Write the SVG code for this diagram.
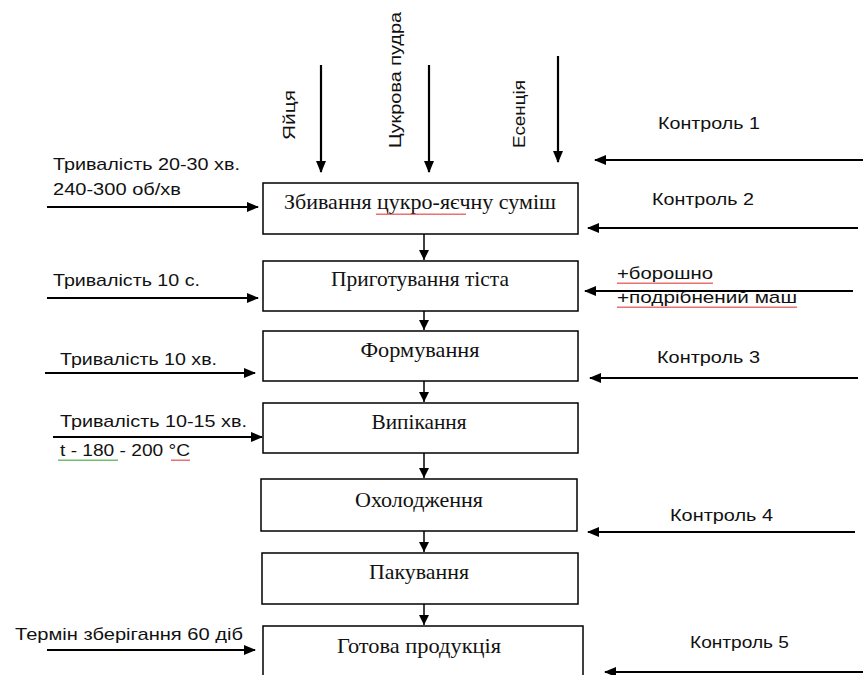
<svg xmlns="http://www.w3.org/2000/svg" width="863" height="675" viewBox="0 0 863 675">
<style>
.box{fill:#fff;stroke:#000;stroke-width:1.5}
.bt{font-family:"Liberation Serif",serif;font-size:21px;fill:#111;text-anchor:middle}
.lb{font-family:"Liberation Sans",Arial,sans-serif;font-size:17px;fill:#111}
.ar{stroke:#000;stroke-width:2.2;fill:none;marker-end:url(#ah)}
.sa{stroke:#000;stroke-width:1.5;fill:none;marker-end:url(#sh)}
</style>
<defs>
<marker id="ah" markerWidth="12" markerHeight="10" refX="11" refY="5" orient="auto" markerUnits="userSpaceOnUse"><path d="M0,0 L12,5 L0,10 z" fill="#000"/></marker>
<marker id="sh" markerWidth="10" markerHeight="10" refX="10" refY="5" orient="auto" markerUnits="userSpaceOnUse"><path d="M0,0 L10,5 L0,10 z" fill="#000"/></marker>
<pattern id="wave" width="4" height="3" patternUnits="userSpaceOnUse"><path d="M0,2 L1,0.5 L2,2 L3,0.5 L4,2" stroke="#e03030" stroke-width="0.8" fill="none"/></pattern>
<pattern id="waveg" width="4" height="3" patternUnits="userSpaceOnUse"><path d="M0,2 L1,0.5 L2,2 L3,0.5 L4,2" stroke="#30a030" stroke-width="0.8" fill="none"/></pattern>
</defs>
<rect width="863" height="675" fill="#fff"/>
<g id="connectors">
<line class="ar" x1="321" y1="65" x2="321" y2="172"/>
<line class="ar" x1="429" y1="65" x2="429" y2="172"/>
<line class="ar" x1="558" y1="56" x2="558" y2="162"/>
<line class="ar" x1="47" y1="207" x2="258" y2="207"/>
<line class="ar" x1="47" y1="298" x2="258" y2="298"/>
<line class="ar" x1="45" y1="373" x2="255" y2="373"/>
<line class="ar" x1="53" y1="437" x2="262" y2="437"/>
<line class="ar" x1="47" y1="650" x2="255" y2="650"/>
<line class="ar" x1="863" y1="160" x2="595" y2="160"/>
<line class="ar" x1="858" y1="228" x2="588" y2="228"/>
<line class="ar" x1="853" y1="291" x2="585" y2="291"/>
<line class="ar" x1="858" y1="378" x2="590" y2="378"/>
<line class="ar" x1="855" y1="532" x2="588" y2="532"/>
<line class="ar" x1="863" y1="672" x2="605" y2="672"/>
<line class="sa" x1="424" y1="234" x2="424" y2="260"/>
<line class="sa" x1="424" y1="311" x2="424" y2="330"/>
<line class="sa" x1="424" y1="381" x2="424" y2="402"/>
<line class="sa" x1="424" y1="453" x2="424" y2="478"/>
<line class="sa" x1="424" y1="531" x2="424" y2="552"/>
<line class="sa" x1="424" y1="604" x2="424" y2="625"/>
</g>
<g id="n1"><rect class="box" x="263" y="183" width="315" height="51"/><text class="bt" x="420" y="209" textLength="272" lengthAdjust="spacingAndGlyphs">Збивання цукро-яєчну суміш</text><rect x="376" y="213" width="90" height="3" fill="url(#wave)"/></g>
<g id="n2"><rect class="box" x="263" y="261" width="315" height="50"/><text class="bt" x="420" y="286" textLength="178" lengthAdjust="spacingAndGlyphs">Приготування тіста</text></g>
<g id="n3"><rect class="box" x="263" y="331" width="315" height="50"/><text class="bt" x="420" y="357" textLength="119" lengthAdjust="spacingAndGlyphs">Формування</text></g>
<g id="n4"><rect class="box" x="263" y="403" width="315" height="50"/><text class="bt" x="419" y="429" textLength="95" lengthAdjust="spacingAndGlyphs">Випікання</text></g>
<g id="n5"><rect class="box" x="261" y="479" width="316" height="52"/><text class="bt" x="419" y="507" textLength="128" lengthAdjust="spacingAndGlyphs">Охолодження</text></g>
<g id="n6"><rect class="box" x="262" y="553" width="316" height="51"/><text class="bt" x="419" y="579" textLength="100" lengthAdjust="spacingAndGlyphs">Пакування</text></g>
<g id="n7"><rect class="box" x="263" y="626" width="320" height="60"/><text class="bt" x="419" y="653" textLength="164" lengthAdjust="spacingAndGlyphs">Готова продукція</text></g>
<g id="inputs">
<text class="lb" transform="translate(295,140) rotate(-90)" textLength="50" lengthAdjust="spacingAndGlyphs">Яйця</text>
<text class="lb" transform="translate(401,148) rotate(-90)" textLength="136" lengthAdjust="spacingAndGlyphs">Цукрова пудра</text>
<text class="lb" transform="translate(525,148) rotate(-90)" textLength="68" lengthAdjust="spacingAndGlyphs">Есенція</text>
</g>
<g id="params">
<text class="lb" x="53" y="170" textLength="187" lengthAdjust="spacingAndGlyphs">Тривалість 20-30 хв.</text>
<text class="lb" x="53" y="195" textLength="128" lengthAdjust="spacingAndGlyphs">240-300 об/хв</text>
<text class="lb" x="53" y="286" textLength="147" lengthAdjust="spacingAndGlyphs">Тривалість 10 с.</text>
<text class="lb" x="60" y="365" textLength="157" lengthAdjust="spacingAndGlyphs">Тривалість 10 хв.</text>
<text class="lb" x="60" y="427" textLength="187" lengthAdjust="spacingAndGlyphs">Тривалість 10-15 хв.</text>
<text class="lb" x="60" y="456" textLength="130" lengthAdjust="spacingAndGlyphs">t - 180 - 200 °C</text>
<rect x="58" y="459" width="60" height="3" fill="url(#waveg)"/>
<rect x="171" y="459" width="19" height="3" fill="url(#wave)"/>
<text class="lb" x="15" y="640" textLength="228" lengthAdjust="spacingAndGlyphs">Термін зберігання 60 діб</text>
</g>
<g id="controls">
<text class="lb" x="658" y="129" textLength="102" lengthAdjust="spacingAndGlyphs">Контроль 1</text>
<text class="lb" x="652" y="205" textLength="102" lengthAdjust="spacingAndGlyphs">Контроль 2</text>
<text class="lb" x="617" y="279" textLength="96" lengthAdjust="spacingAndGlyphs">+борошно</text>
<rect x="617" y="281" width="96" height="3" fill="url(#wave)"/>
<text class="lb" x="617" y="303" textLength="180" lengthAdjust="spacingAndGlyphs">+подрібнений маш</text>
<rect x="617" y="305" width="180" height="3" fill="url(#wave)"/>
<text class="lb" x="657" y="363" textLength="103" lengthAdjust="spacingAndGlyphs">Контроль 3</text>
<text class="lb" x="670" y="521" textLength="103" lengthAdjust="spacingAndGlyphs">Контроль 4</text>
<text class="lb" x="690" y="648" textLength="99" lengthAdjust="spacingAndGlyphs">Контроль 5</text>
</g>
</svg>
